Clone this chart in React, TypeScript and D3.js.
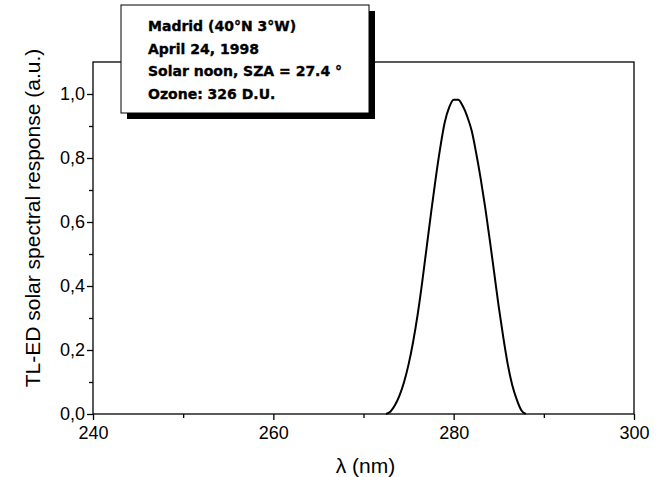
import React, { useRef, useEffect } from "react";
import * as d3 from "d3";

// wavelength (nm) and relative response
const wavelengths = [
  272.5, 273, 273.5, 274, 274.5, 275, 275.5, 276, 276.5, 277, 277.5, 278, 278.5,
  279, 279.5, 280, 280.5, 281, 281.5, 282, 282.5, 283, 283.5, 284, 284.5, 285,
  285.5, 286, 286.5, 287, 287.5, 288,
];
const response = [
  0, 0.008, 0.028, 0.058, 0.1, 0.155, 0.225, 0.31, 0.41, 0.52, 0.63, 0.735,
  0.83, 0.91, 0.958, 0.982, 0.982, 0.963, 0.93, 0.885, 0.815, 0.735, 0.645,
  0.545, 0.44, 0.335, 0.24, 0.155, 0.09, 0.045, 0.012, 0,
];
const xTicks = [240, 260, 280, 300];
const yTicks = [0, 0.2, 0.4, 0.6, 0.8, 1.0];
const infoLines = [
  "Madrid (40°N 3°W)",
  "April 24, 1998",
  "Solar noon, SZA = 27.4 °",
  "Ozone: 326 D.U.",
];

const W = 663;
const H = 477;
const margin = { top: 62, right: 29, bottom: 63, left: 93 };

const App = () => {
  const ref = useRef<SVGSVGElement | null>(null);

  useEffect(() => {
    const svg = d3.select(ref.current);
    svg.selectAll("*").remove();

    const x = d3.scaleLinear().domain([240, 300]).range([margin.left, W - margin.right]);
    const y = d3.scaleLinear().domain([0, 1.1]).range([H - margin.bottom, margin.top]);
    const font = "'Liberation Sans', Arial, sans-serif";

    // frame
    svg
      .append("rect")
      .attr("x", x(240))
      .attr("y", y(1.1))
      .attr("width", x(300) - x(240))
      .attr("height", y(0) - y(1.1))
      .attr("fill", "none")
      .attr("stroke", "#000")
      .attr("stroke-width", 1.3);

    // x axis
    const xAxis = svg.append("g").attr("transform", `translate(0,${y(0)})`);
    xAxis
      .call(
        d3.axisBottom(x).tickValues(d3.range(240, 301, 10)).tickSize(6)
          .tickFormat((d) => (xTicks.includes(+d) ? String(d) : ""))
      )
      .call((g) => g.select(".domain").remove());
    xAxis.selectAll(".tick line").attr("stroke-width", 1.3)
      .attr("y2", (d) => (xTicks.includes(+d) ? 6 : 4));
    xAxis.selectAll(".tick text")
      .attr("font-family", font).attr("font-size", 18).attr("fill", "#000").attr("dy", "0.9em");

    // y axis
    const yAxis = svg.append("g").attr("transform", `translate(${x(240)},0)`);
    yAxis
      .call(
        d3.axisLeft(y).tickValues(d3.range(0, 11).map((i) => i / 10)).tickSize(6)
          .tickFormat((d) => {
            const v = +d;
            return yTicks.some((t) => Math.abs(t - v) < 1e-9) ? v.toFixed(1).replace(".", ",") : "";
          })
      )
      .call((g) => g.select(".domain").remove());
    yAxis.selectAll(".tick line").attr("stroke-width", 1.3)
      .attr("x2", (d) => (Math.round(+d * 10) % 2 === 0 ? -6 : -4));
    yAxis.selectAll(".tick text")
      .attr("font-family", font).attr("font-size", 18).attr("fill", "#000").attr("x", -8);

    // curve
    const pts = wavelengths.map((w, i) => [w, response[i]] as [number, number]);
    svg
      .append("path")
      .datum(pts)
      .attr("fill", "none")
      .attr("stroke", "#000")
      .attr("stroke-width", 2)
      .attr("d", d3.line<[number, number]>().x((d) => x(d[0])).y((d) => y(d[1])).curve(d3.curveMonotoneX));

    // axis titles
    svg.append("text")
      .attr("x", (x(240) + x(300)) / 2 + 2)
      .attr("y", 473)
      .attr("text-anchor", "middle")
      .attr("font-family", font)
      .attr("font-size", 21)
      .text("λ (nm)");
    svg.append("text")
      .attr("transform", `translate(40,${(y(0) + y(1.1)) / 2 - 20}) rotate(-90)`)
      .attr("text-anchor", "middle")
      .attr("font-family", font)
      .attr("font-size", 21)
      .text("TL-ED solar spectral response (a.u.)");

    // info box with drop shadow
    const bx = 121, by = 5, bw = 248, bh = 108;
    svg.append("rect").attr("x", bx + 6).attr("y", by + 6).attr("width", bw).attr("height", bh).attr("fill", "#000");
    svg.append("rect").attr("x", bx).attr("y", by).attr("width", bw).attr("height", bh)
      .attr("fill", "#fff").attr("stroke", "#000").attr("stroke-width", 1);
    svg.append("g")
      .selectAll("text")
      .data(infoLines)
      .join("text")
      .attr("x", 148)
      .attr("y", (_d, i) => 31 + i * 22.5)
      .attr("font-family", "'DejaVu Sans', sans-serif")
      .attr("font-weight", "bold")
      .attr("font-size", 14)
      .attr("stroke", "#000")
      .attr("stroke-width", 0.35)
      .text((d) => d);
  }, []);

  return <svg ref={ref} width={W} height={H} style={{ display: "block", position: "absolute", left: 0, top: 0 }} />;
};

export default App;
